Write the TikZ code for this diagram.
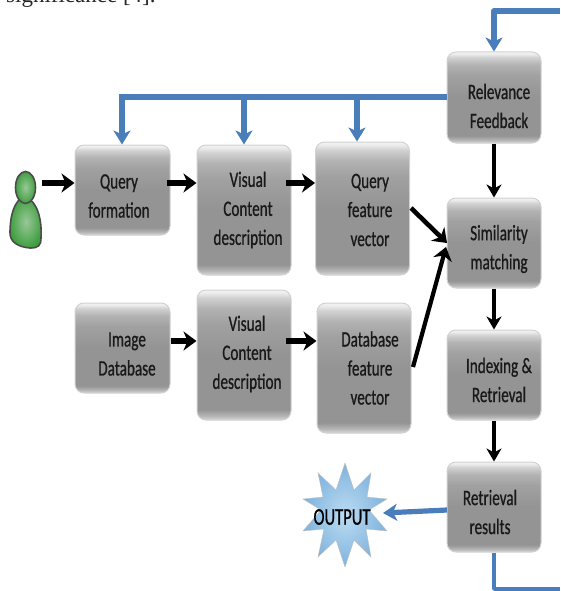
\documentclass[tikz,border=0pt]{standalone}
\usepackage{fontspec}
\setmainfont[FakeStretch=0.69,FakeBold=0.7]{Carlito}
\newfontfamily\capfont{Liberation Serif}
\usetikzlibrary{arrows.meta,shapes.geometric}
\definecolor{fbblue}{HTML}{4A7EBB}
\pgfdeclareverticalshading{boxshade}{100bp}{rgb(0bp)=(.85,.85,.85); rgb(25bp)=(.85,.85,.85); rgb(26.5bp)=(.72,.72,.72); rgb(29bp)=(.58,.58,.58); rgb(50bp)=(.58,.58,.58); rgb(62bp)=(.63,.63,.63); rgb(68bp)=(.70,.70,.70); rgb(72bp)=(.82,.82,.82); rgb(74bp)=(.93,.93,.93); rgb(75bp)=(.95,.95,.95); rgb(100bp)=(.95,.95,.95)}
\tikzset{
  flowbox/.style={shading=boxshade, draw=black!18, line width=1pt, rounded corners=9pt, inner sep=0pt},
  lab/.style={align=center, font=\fontsize{22}{29}\selectfont, text=black!90, inner sep=0pt},
  blk/.style={draw=black, line width=5.5pt, -{Stealth[length=13pt,width=19pt,inset=4pt]}},
  blkthin/.style={draw=black, line width=3.6pt, -{Stealth[length=13pt,width=15pt,inset=4pt]}},
  blu/.style={draw=fbblue, line width=5.2pt},
  bluarr/.style={blu, -{Stealth[length=14pt,width=17pt,inset=4pt]}},
}
\newcommand{\boxat}[5]{\node[flowbox, minimum width=#4pt, minimum height=#5pt] (#1) at (#2,#3) {};}
\begin{document}
\begin{tikzpicture}[x=1pt,y=-1pt]
\useasboundingbox (0,0) rectangle (560,591);
\node[anchor=base west, inner sep=0pt, font=\capfont\fontsize{23}{23}\selectfont, text=black!85] (cap) at (6,3) {significance [4].};

% boxes
\boxat{qf}{122.5}{190}{95}{90}
\boxat{vc}{244}{210}{94}{130}
\boxat{qv}{362.5}{208.5}{94}{133}
\boxat{rf}{494}{97.5}{94}{91}
\boxat{sm}{494}{243}{94}{90}
\boxat{ir}{494}{375}{94}{90}
\boxat{rr}{494}{507}{94}{90}
\boxat{id}{122.5}{348}{95}{90}
\boxat{vd}{244}{355}{94}{130}
\boxat{dv}{364}{368}{94}{130}

% box texts
\node[lab] (qft) at (119,196) {Query\\formation};
\node[lab] (vct) at (248,210) {Visual\\Content\\description};
\node[lab] (qvt) at (370,210) {Query\\feature\\vector};
\node[lab] (rft) at (499,106) {Relevance\\Feedback};
\node[lab] (smt) at (499,249) {Similarity\\matching};
\node[lab] (irt) at (499,380) {Indexing \&\\Retrieval};
\node[lab] (rrt) at (490,512) {Retrieval\\results};
\node[lab] (idt) at (127,354) {Image\\Database};
\node[lab] (vdt) at (247,354) {Visual\\Content\\description};
\node[lab] (dvt) at (370,368) {Database\\feature\\vector};

% person
\path[draw=black!70, line width=1.6pt, inner color=green!45!black!40!white, outer color=green!50!black!75!white, shading=radial]
  (25,196) .. controls (14,200) and (10,216) .. (10,233)
  .. controls (10,242) and (18,247) .. (30,248)
  .. controls (38,248) and (41,246) .. (41,238)
  .. controls (42,220) and (38,202) .. (25,196) -- cycle;
\node[draw=black!70, line width=1.6pt, ellipse, minimum width=20pt, minimum height=32pt, inner sep=0pt, shading=radial, inner color=green!45!black!40!white, outer color=green!50!black!75!white] (person) at (25.5,187.5) {};

% star
\definecolor{starin}{HTML}{BCDCF2}
\definecolor{starout}{HTML}{7FB3DE}
\path[shading=radial, inner color=starin, outer color=starout, draw=black!25, line width=.4pt]
  (345,463) -- (354,490) -- (371,473) -- (367,497) -- (387,499) -- (369,510) -- (387,531) -- (366,529) -- (371,557) -- (354,540) -- (345,567) -- (336,540) -- (318,557) -- (324,529) -- (303,531) -- (321,510) -- (303,499) -- (323,497) -- (318,473) -- (336,490) -- cycle;
\node[font=\fontsize{24}{24}\selectfont, inner sep=0pt] (outp) at (342,517) {OUTPUT};

% free ends
\coordinate (row1) at (0,183);
\coordinate (row2) at (0,341);
\coordinate (fbl) at (0,97);
\coordinate (tr) at (560,11);
\coordinate (br) at (560,589);
\coordinate (jq) at (122,97);
\coordinate (jv) at (244,97);
\coordinate (jf) at (357,97);
\coordinate (tc) at (494,11);
\coordinate (bc) at (494,589);
\coordinate (qvo) at (411,208);
\coordinate (dvo) at (413,367);
\coordinate (smq) at (447,243);
\coordinate (smd) at (446,247);
\coordinate (outs) at (383,513);
\coordinate (rro) at (447,510);

% black connectors
\draw[blk] (person.east |- row1) ++(6,0) -- (qf.west |- row1);
\draw[blk] ([xshift=-4pt]qf.east |- row1) -- (vc.west |- row1);
\draw[blk] ([xshift=-6pt]vc.east |- row1) -- (qv.west |- row1);
\draw[blk] (id.east |- row2) -- (vd.west |- row2);
\draw[blk] ([xshift=-6pt]vd.east |- row2) -- (dv.west |- row2);
\draw[blk, line width=4.6pt] (qvo) -- (smq);
\draw[blk, line width=4.2pt] (dvo) -- (smd);
\draw[blkthin] (rf.south) -- (sm.north);
\draw[blkthin] (sm.south) -- (ir.north);
\draw[blkthin] (ir.south) -- (rr.north);

% blue connectors
\draw[blu] (rf.west |- fbl) -- (jq);
\draw[bluarr] ([yshift=2.6pt]jq) -- (jq |- qf.north);
\draw[bluarr] (jv) -- (jv |- vc.north);
\draw[bluarr] (jf) -- (jf |- qv.north);
\draw[bluarr, line join=round] (tr) -- (tc) -- (rf.north);
\draw[bluarr] (rro) -- (outs);
\draw[blu, line width=3.8pt, line join=round] (rr.south) -- (bc) -- (br);
\end{tikzpicture}
\end{document}
